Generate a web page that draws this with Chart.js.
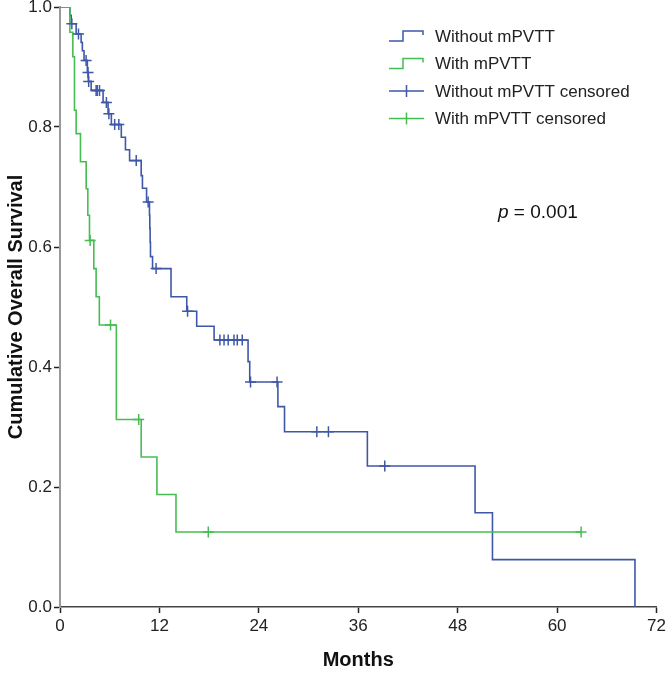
<!DOCTYPE html>
<html>
<head>
<meta charset="utf-8">
<script src="https://cdn.jsdelivr.net/npm/chart.js@4.4.1/dist/chart.umd.min.js"></script>
<style>
  html, body { margin: 0; padding: 0; background: #fff; }
</style>
</head>
<body>
<canvas id="km" width="667" height="673"></canvas>
<script>
// Kaplan-Meier steps: month of each drop and survival after it
var withoutTimes = [0, 1.2, 1.35, 1.95, 2.55, 2.7, 2.9, 3.3, 3.42, 3.76, 5.2, 5.8, 6.2, 7.4, 7.9, 8.4, 9.8, 9.95, 10.45, 10.8, 10.84, 10.88, 10.92, 11.17, 13.4, 15.3, 16.5, 18.6, 22.7, 22.9, 26.3, 27.1, 37.1, 50.1, 52.2, 69.4];
var withoutSurv = [1.0, 0.986, 0.972, 0.955, 0.941, 0.927, 0.911, 0.891, 0.876, 0.861, 0.841, 0.822, 0.804, 0.783, 0.762, 0.744, 0.719, 0.698, 0.675, 0.653, 0.631, 0.608, 0.584, 0.564, 0.517, 0.493, 0.468, 0.445, 0.409, 0.375, 0.334, 0.292, 0.235, 0.157, 0.079, 0];
var withoutCensored = [1.43, 2.23, 3.15, 3.38, 3.46, 4.36, 4.5, 4.77, 5.6, 5.9, 6.6, 7.1, 9.2, 10.64, 11.6, 15.4, 19.3, 19.8, 20.3, 21.0, 21.4, 22.0, 23.0, 26.2, 31.0, 32.4, 39.2];

var withTimes = [0, 1.19, 1.55, 1.75, 1.95, 2.47, 3.16, 3.36, 3.56, 4.08, 4.36, 4.75, 6.8, 9.8, 11.7, 14.0];
var withSurv = [1.0, 0.958, 0.917, 0.828, 0.789, 0.742, 0.697, 0.653, 0.611, 0.564, 0.517, 0.470, 0.3125, 0.25, 0.1875, 0.125];
var withCensored = [3.64, 6.1, 9.5, 17.9, 62.9];

var xTicks = [0, 12, 24, 36, 48, 60, 72];
var yTicks = [0, 0.2, 0.4, 0.6, 0.8, 1.0];

var legendLabels = ['Without mPVTT', 'With mPVTT', 'Without mPVTT censored', 'With mPVTT censored'];
var blue = '#3f57a9';
var green = '#45bd52';
var fontFamily = "'Liberation Sans', Arial, sans-serif";

function stepPoints(times, surv, censored) {
  var pts = times.map(function(t, i) { return {x: t, y: surv[i]}; });
  var lastC = Math.max.apply(null, censored);
  if (lastC > times[times.length - 1]) pts.push({x: lastC, y: surv[surv.length - 1]});
  return pts;
}

function survivalAt(times, surv, t) {
  var s = 1;
  for (var i = 0; i < times.length; i++) { if (times[i] <= t) s = surv[i]; }
  return s;
}

function censorPoints(times, surv, censored) {
  return censored.map(function(t) { return {x: t, y: survivalAt(times, surv, t)}; });
}

/* legend in the top right, drawn by hand so the step and cross icons look like the SPSS ones */
var kmLegend = {
  id: 'kmLegend',
  afterDraw: function(chart) {
    var ctx = chart.ctx;
    var rowsY = [36, 63.5, 91, 118.5];
    var colors = [blue, green, blue, green];
    ctx.save();
    ctx.lineWidth = 1.5;
    rowsY.forEach(function(y, i) {
      ctx.strokeStyle = colors[i];
      ctx.beginPath();
      if (i < 2) {
        ctx.moveTo(389, y + 5); ctx.lineTo(403, y + 5); ctx.lineTo(403, y - 5);
        ctx.lineTo(423, y - 5); ctx.lineTo(423, y - 1);
      } else {
        ctx.moveTo(389, y); ctx.lineTo(424, y);
        ctx.moveTo(406.5, y - 6); ctx.lineTo(406.5, y + 6);
      }
      ctx.stroke();
      ctx.fillStyle = '#222';
      ctx.font = '17px ' + fontFamily;
      ctx.textBaseline = 'middle';
      ctx.fillText(legendLabels[i], 435, y + 1);
    });
    // p value
    ctx.fillStyle = '#111';
    ctx.font = 'italic 19px ' + fontFamily;
    ctx.fillText('p', 498, 213);
    var pw = ctx.measureText('p').width;
    ctx.font = '19px ' + fontFamily;
    ctx.fillText(' = 0.001', 498 + pw, 213);
    ctx.restore();
  }
};

var ctx = document.getElementById('km');
var kmChart = new Chart(ctx, {
  type: 'line',
  data: {
    datasets: [
      {
        label: legendLabels[0],
        data: stepPoints(withoutTimes, withoutSurv, withoutCensored),
        borderColor: blue, borderWidth: 1.6, stepped: true,
        pointRadius: 0, fill: false, order: 2
      },
      {
        label: legendLabels[1],
        data: stepPoints(withTimes, withSurv, withCensored),
        borderColor: green, borderWidth: 1.6, stepped: true,
        pointRadius: 0, fill: false, order: 1
      },
      {
        type: 'scatter',
        label: legendLabels[2],
        data: censorPoints(withoutTimes, withoutSurv, withoutCensored),
        borderColor: blue, pointStyle: 'cross', pointRadius: 5.5,
        pointBorderWidth: 1.5, showLine: false, order: 0
      },
      {
        type: 'scatter',
        label: legendLabels[3],
        data: censorPoints(withTimes, withSurv, withCensored),
        borderColor: green, pointStyle: 'cross', pointRadius: 5.5,
        pointBorderWidth: 1.5, showLine: false, order: 0
      }
    ]
  },
  options: {
    responsive: false,
    animation: false,
    layout: { padding: { top: 6.5, right: 10.5, left: 0, bottom: 0 } },
    plugins: {
      legend: { display: false },
      tooltip: { enabled: false }
    },
    scales: {
      x: {
        type: 'linear', min: 0, max: 72,
        afterBuildTicks: function(scale) { scale.ticks = xTicks.map(function(v) { return {value: v}; }); },
        afterFit: function(scale) { scale.height = 66; scale.paddingLeft = 0; scale.paddingRight = 0; },
        grid: { drawOnChartArea: false, tickLength: 6, tickColor: '#222', tickWidth: 1.5 },
        border: { color: '#444', width: 1.5 },
        ticks: { color: '#222', padding: 3, maxRotation: 0, font: { family: fontFamily, size: 17 } },
        title: { display: true, text: 'Months', color: '#111', padding: { bottom: 1 },
                 font: { family: fontFamily, size: 20, weight: 'bold' } }
      },
      y: {
        type: 'linear', min: 0, max: 1,
        afterBuildTicks: function(scale) { scale.ticks = yTicks.map(function(v) { return {value: v}; }); },
        afterFit: function(scale) { scale.width = 60; scale.paddingTop = 0; scale.paddingBottom = 0; },
        grid: { drawOnChartArea: false, tickLength: 6, tickColor: '#222', tickWidth: 1.5 },
        border: { color: '#999', width: 2 },
        ticks: { color: '#222', padding: 2, font: { family: fontFamily, size: 17 },
                 callback: function(v) { return v.toFixed(1); } },
        title: { display: true, text: 'Cumulative Overall Survival', color: '#111', padding: { top: 4 },
                 font: { family: fontFamily, size: 20, weight: 'bold' } }
      }
    }
  },
  plugins: [kmLegend]
});
</script>
</body>
</html>
